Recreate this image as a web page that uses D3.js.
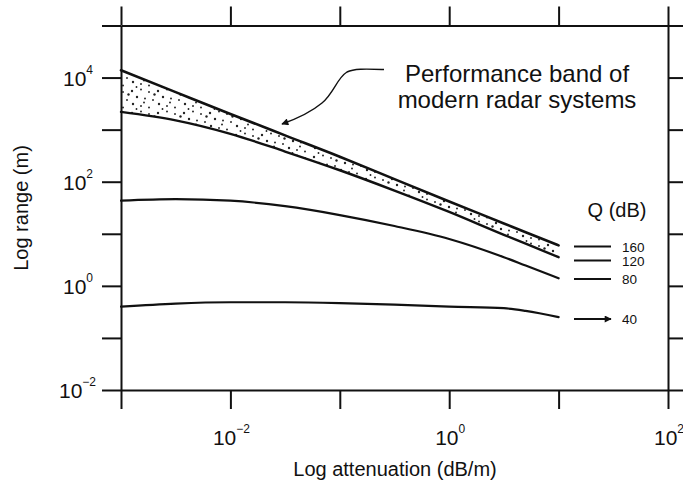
<!DOCTYPE html>
<html>
<head>
<meta charset="utf-8">
<script src="https://cdn.jsdelivr.net/npm/d3@7"></script>
<style>
  body { margin: 0; background: #fff; }
  text { font-family: "Liberation Sans", Arial, Helvetica, sans-serif; fill: #111; }
</style>
</head>
<body>
<svg id="chart" width="683" height="484"></svg>
<script>
// Attenuation (dB/m) sample points shared by every Q curve
const attenuation = [0.001, 0.00316, 0.01, 0.0316, 0.1, 0.316, 1, 3.16, 5.0, 10];
// Maximum range (m) for each radar quality factor Q (dB)
const rangeQ160 = [13800, 5250, 2000, 776, 302, 112, 41.7, 15.8, 10.7, 6.0];
const rangeQ120 = [2190, 1510, 832, 380, 166, 67.6, 26.3, 9.55, 6.46, 3.55];
const rangeQ80  = [43.2, 46.2, 43.2, 33.9, 22.9, 14.1, 7.94, 3.55, 2.45, 1.40];
const rangeQ40  = [0.398, 0.457, 0.484, 0.484, 0.468, 0.437, 0.398, 0.372, 0.331, 0.251];
const qLabels = ["160", "120", "80", "40"];

// Axis ticks (decades) and the exponents that carry a label
const xTickValues = [1e-3, 1e-2, 1e-1, 1e0, 1e1, 1e2];
const yTickValues = [1e-2, 1e-1, 1e0, 1e1, 1e2, 1e3, 1e4, 1e5];
const xLabelExponents = [-2, 0, 2];
const yLabelExponents = [-2, 0, 2, 4];

const svg = d3.select("#chart");
const x = d3.scaleLog().domain([1e-3, 1e2]).range([121, 668]);
const y = d3.scaleLog().domain([1e-2, 1e5]).range([390, 25.5]);
const [x0, x1] = x.range();
const [yb, yt] = y.range();

// Stipple texture for the performance band (irregular dot tile)
const defs = svg.append("defs");
const pat = defs.append("pattern").attr("id", "stipple")
  .attr("patternUnits", "userSpaceOnUse").attr("width", 26).attr("height", 22);
[[2, 3], [11, 1.5], [19, 4], [7, 9], [15, 10.5], [23, 12], [3, 16],
 [11, 18], [19, 19.5], [24.5, 6.5], [6.5, 21], [14, 14.5]].forEach(([cx, cy], i) =>
  pat.append("circle").attr("cx", cx).attr("cy", cy)
    .attr("r", i % 3 === 0 ? 1.2 : 0.95).attr("fill", "#222"));
defs.append("marker").attr("id", "arrowHead")
  .attr("viewBox", "0 0 10 10").attr("refX", 9).attr("refY", 5)
  .attr("markerWidth", 9).attr("markerHeight", 7).attr("markerUnits", "userSpaceOnUse")
  .attr("orient", "auto")
  .append("path").attr("d", "M0,0 L10,5 L0,10 Z").attr("fill", "#111");

// Frame axes on all four sides, ticks pointing outward
function styleAxis(g) {
  g.selectAll("path, line").attr("stroke", "#111").attr("stroke-width", 2);
  g.selectAll("text").remove();
}
const tick = 19;
svg.append("g").attr("transform", `translate(0,${yb})`)
  .call(d3.axisBottom(x).tickValues(xTickValues).tickFormat("").tickSize(tick).tickSizeOuter(0))
  .call(styleAxis);
svg.append("g").attr("transform", `translate(0,${yt})`)
  .call(d3.axisTop(x).tickValues(xTickValues).tickFormat("").tickSize(tick).tickSizeOuter(0))
  .call(styleAxis);
svg.append("g").attr("transform", `translate(${x0},0)`)
  .call(d3.axisLeft(y).tickValues(yTickValues).tickFormat("").tickSize(tick).tickSizeOuter(0))
  .call(styleAxis);
svg.append("g").attr("transform", `translate(${x1},0)`)
  .call(d3.axisRight(y).tickValues(yTickValues).tickFormat("").tickSize(tick).tickSizeOuter(0))
  .call(styleAxis);

// Power-of-ten labels with superscript exponents
function powerLabel(sel, exp) {
  sel.append("tspan").text("10");
  sel.append("tspan").attr("font-size", 12).attr("dy", -12)
    .text(exp < 0 ? "\u2212" + Math.abs(exp) : String(exp));
}
xLabelExponents.forEach(e => {
  svg.append("text").attr("x", x(Math.pow(10, e)) + 1).attr("y", 445)
    .attr("font-size", 21).attr("text-anchor", "middle")
    .call(powerLabel, e);
});
yLabelExponents.forEach(e => {
  const t = svg.append("text").attr("y", y(Math.pow(10, e)) + 8)
    .attr("font-size", 21).attr("text-anchor", "end");
  t.attr("x", e < 0 ? 96 : 93).call(powerLabel, e);
});

// Axis titles
svg.append("text").attr("x", 395).attr("y", 476).attr("text-anchor", "middle")
  .attr("font-size", 20).text("Log attenuation (dB/m)");
svg.append("text").attr("transform", "translate(28,208) rotate(-90)")
  .attr("text-anchor", "middle").attr("font-size", 20).text("Log range (m)");

// Curves
const pts = vals => attenuation.map((a, i) => [a, vals[i]]);
const line = d3.line().x(d => x(d[0])).y(d => y(d[1])).curve(d3.curveMonotoneX);
const band = d3.area()
  .x((d, i) => x(attenuation[i]))
  .y0((d, i) => y(rangeQ120[i]))
  .y1((d, i) => y(rangeQ160[i]))
  .curve(d3.curveMonotoneX);

svg.append("path").attr("d", band(attenuation)).attr("fill", "url(#stipple)");
[[rangeQ160, 2.6], [rangeQ120, 2.4], [rangeQ80, 2.2], [rangeQ40, 2.2]].forEach(([vals, w]) => {
  svg.append("path").attr("d", line(pts(vals)))
    .attr("fill", "none").attr("stroke", "#111").attr("stroke-width", w)
    .attr("stroke-linecap", "round");
});

// Annotation for the shaded band
svg.append("path")
  .attr("d", "M384,69.5 C366,69 354,68.5 347,72 C337,78 334,93 322,103 C310,113 296,119 282,124")
  .attr("fill", "none").attr("stroke", "#111").attr("stroke-width", 1.4)
  .attr("marker-end", "url(#arrowHead)");
const note = svg.append("text").attr("text-anchor", "middle").attr("font-size", 24);
note.append("tspan").attr("x", 517).attr("y", 82).text("Performance band of");
note.append("tspan").attr("x", 517).attr("y", 108).text("modern radar systems");

// Q legend
svg.append("text").attr("x", 617).attr("y", 217).attr("text-anchor", "middle")
  .attr("font-size", 20).text("Q (dB)");
const legendRows = [246.5, 260.5, 279, 319];
qLabels.forEach((q, i) => {
  const ly = legendRows[i];
  svg.append("line").attr("x1", 574).attr("x2", 611).attr("y1", ly).attr("y2", ly)
    .attr("stroke", "#111").attr("stroke-width", 1.8)
    .attr("marker-end", q === "40" ? "url(#arrowHead)" : null);
  svg.append("text").attr("x", 622).attr("y", ly + 5).attr("font-size", 13.5).text(q);
});
</script>
</body>
</html>
